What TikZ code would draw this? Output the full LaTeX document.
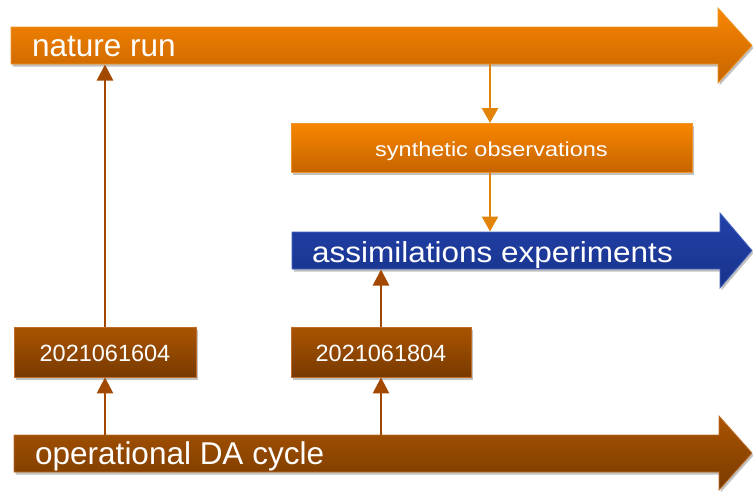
\documentclass[tikz,border=0pt]{standalone}
\usepackage{fontspec}
\setmainfont{Liberation Sans}
\usetikzlibrary{shadows,arrows.meta}

\definecolor{orTop}{RGB}{248,134,0}
\definecolor{orBot}{RGB}{198,100,0}
\definecolor{orEdge}{RGB}{236,150,40}
\definecolor{brTop}{RGB}{170,84,0}
\definecolor{brBot}{RGB}{120,58,0}
\definecolor{brEdge}{RGB}{190,110,40}
\definecolor{blTop}{RGB}{34,66,170}
\definecolor{blBot}{RGB}{24,50,138}
\definecolor{blEdge}{RGB}{70,100,190}
\definecolor{orLine}{RGB}{226,132,10}
\definecolor{brLine}{RGB}{162,72,0}

\tikzset{
  softshadow/.style={drop shadow={shadow xshift=1.5pt, shadow yshift=-2.5pt, opacity=0.35, fill=black!70}},
  orangefill/.style={top color=orTop, bottom color=orBot, draw=orEdge, line width=0.8pt, softshadow},
  brownfill/.style={top color=brTop, bottom color=brBot, draw=brEdge, line width=0.8pt, softshadow},
  bluefill/.style={top color=blTop, bottom color=blBot, draw=blEdge, line width=0.8pt, softshadow},
  bigtext/.style={text=white, anchor=base west, inner sep=0pt, font=\fontsize{31.5}{36}\selectfont},
  smallbox/.style={text=white, inner sep=0pt, text height=18pt, text depth=0pt,
    font=\fontsize{23.5}{28}\selectfont},
  orconn/.style={draw=orLine, line width=2.5pt, -{Triangle[length=15pt,width=16pt]}},
  brconn/.style={draw=brLine, line width=2.5pt, -{Triangle[length=16pt,width=16pt]}},
}

% timeline band: #1 style, #2 left, #3 head start, #4 body top, #5 body bottom,
% #6 head top, #7 head bottom, #8 tip x
\newcommand{\bandarrow}[8]{%
  \path[#1] (#2,#4) -- (#3,#4) -- (#3,#6)
    -- (#8,{(#6+#7)/2}) -- (#3,#7) -- (#3,#5) -- (#2,#5) -- cycle;}

\begin{document}
\begin{tikzpicture}[x=1pt, y=-1pt]
  \useasboundingbox (0,0) rectangle (753,491);

  % timelines
  \bandarrow{orangefill}{11}{718}{27}{64}{8}{83}{752}
  \bandarrow{bluefill}{292}{720}{232}{269}{213}{288}{752}
  \bandarrow{brownfill}{14}{719}{435}{472}{416}{490}{752}

  \node[bigtext] (nature) at (32,56.5) {nature run};
  \node[bigtext] (assim) at (312,262) {\scalebox{1}[0.92]{assimilations experiments}};
  \node[bigtext] (opda) at (35,464) {operational DA cycle};

  % boxes
  \node[smallbox, orangefill, minimum width=401pt, minimum height=49pt] (synth) at (491.5,147.5)
    {\scalebox{1}[0.86]{synthetic observations}};
  \node[smallbox, brownfill, minimum width=182pt, minimum height=50pt] (d1604) at (105,352) {2021061604};
  \node[smallbox, brownfill, minimum width=180pt, minimum height=50pt] (d1804) at (381,352) {2021061804};

  % connection points on the bands
  \coordinate (natA) at (105,64.5);
  \coordinate (natB) at (490,64);
  \coordinate (synTop) at (490,123);
  \coordinate (synBot) at (490,172);
  \coordinate (assTop) at (490,231.5);
  \coordinate (assBot) at (381,269.5);
  \coordinate (opA) at (105,435);
  \coordinate (opB) at (381,435);

  % connectors
  \draw[brconn] (opA) -- (d1604.south);
  \draw[brconn] (d1604.north) -- (natA);
  \draw[brconn] (opB) -- (d1804.south);
  \draw[brconn] (d1804.north) -- (assBot);
  \draw[orconn] (natB) -- (synTop);
  \draw[orconn] (synBot) -- (assTop);
\end{tikzpicture}
\end{document}
